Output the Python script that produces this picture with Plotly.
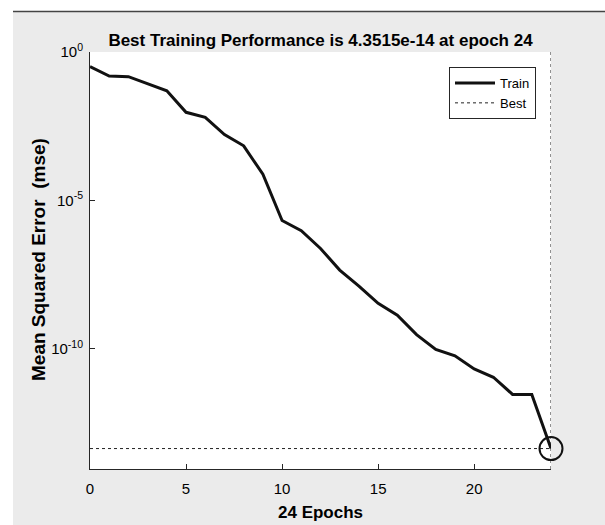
import plotly.graph_objects as go

# ---- data ----
epochs = list(range(25))
train_mse = [0.32, 0.155, 0.148, 0.087, 0.049, 0.0093, 0.0063, 0.00166, 0.00069, 7.6e-5,
             2.1e-6, 9.5e-7, 2.4e-7, 4.5e-8, 1.3e-8, 3.4e-9, 1.35e-9, 3.0e-10, 9.5e-11,
             5.8e-11, 2.1e-11, 1.1e-11, 2.9e-12, 2.9e-12, 4.3515e-14]
best_epoch = 24
best_value = 4.3515e-14
x_ticks = [0, 5, 10, 15, 20]
y_ticks = [1, 1e-5, 1e-10]
y_tick_text = ["10<sup>0</sup>", "10<sup>-5</sup>", "10<sup>-10</sup>"]
y_log_range = [-14.05, 0]
x_range = [0, 24]

# ---- layout geometry (pixels) ----
W, H = 605, 525
L, R, T, B = 90, 54, 52, 56
pw, ph = W - L - R, H - T - B

def px_x(p):
    return (p - L) / pw

def px_y(p):
    return (H - B - p) / ph

FONT = "Liberation Sans, Arial, Helvetica, sans-serif"
AX = "#262626"

fig = go.Figure()

fig.add_trace(go.Scatter(
    x=epochs, y=train_mse, mode="lines", name="Train",
    line=dict(color="#111111", width=3), cliponaxis=False))

ymin, ymax = 10 ** y_log_range[0], 10 ** y_log_range[1]
fig.add_trace(go.Scatter(
    x=[x_range[0], best_epoch, None, best_epoch, best_epoch],
    y=[best_value, best_value, None, ymin, ymax],
    mode="lines", name="Best",
    line=dict(color="#222222", width=1, dash="dot"), cliponaxis=False))

fig.add_trace(go.Scatter(
    x=[best_epoch], y=[best_value], mode="markers", showlegend=False,
    marker=dict(symbol="circle-open", size=23, color="#111111",
                line=dict(width=2, color="#111111")),
    cliponaxis=False))

shapes = [
    dict(type="rect", xref="paper", yref="paper", x0=px_x(0), x1=px_x(13),
         y0=px_y(H), y1=px_y(0), fillcolor="white", line=dict(width=0), layer="below"),
    dict(type="rect", xref="paper", yref="paper", x0=px_x(0), x1=px_x(W),
         y0=px_y(11), y1=px_y(0), fillcolor="white", line=dict(width=0), layer="below"),
    dict(type="line", xref="paper", yref="paper", x0=px_x(13), x1=px_x(W),
         y0=px_y(11.5), y1=px_y(11.5), line=dict(color="#444444", width=1.5)),
]

annotations = [
    dict(text="<b>Mean Squared Error\u00a0\u00a0(mse)</b>", textangle=-90,
         xref="paper", yref="paper", x=px_x(38), y=px_y(260),
         xanchor="center", yanchor="middle", showarrow=False,
         font=dict(family=FONT, size=19, color="black")),
    dict(text="<b>24 Epochs</b>", xref="paper", yref="paper",
         x=0.5, y=px_y(512), xanchor="center", yanchor="middle", showarrow=False,
         font=dict(family=FONT, size=17, color="black")),
]

fig.update_layout(
    width=W, height=H,
    margin=dict(l=L, r=R, t=T, b=B, pad=0),
    paper_bgcolor="#EBEBEB", plot_bgcolor="white",
    font=dict(family=FONT, size=14, color="black"),
    title=dict(text="<b>Best Training Performance is 4.3515e-14 at epoch 24</b>",
               x=0.5, xref="paper", xanchor="center",
               y=1 - 40 / H, yref="container", yanchor="middle",
               font=dict(family=FONT, size=17, color="black")),
    showlegend=True,
    legend=dict(x=px_x(536), y=px_y(67), xanchor="right", yanchor="top",
                bgcolor="white", bordercolor=AX, borderwidth=1,
                font=dict(family=FONT, size=13, color="black"),
                tracegroupgap=0, itemwidth=40),
    shapes=shapes, annotations=annotations,
)

fig.update_xaxes(range=x_range, tickvals=x_ticks, ticks="inside", ticklen=5,
                 tickcolor=AX, showline=True, linecolor=AX, linewidth=1,
                 showgrid=False, zeroline=False, mirror=False, ticklabelstandoff=6,
                 tickfont=dict(family=FONT, size=15, color="black"))
fig.update_yaxes(type="log", range=y_log_range, tickvals=y_ticks, ticktext=y_tick_text,
                 ticks="inside", ticklen=5, tickcolor=AX, showline=True, linecolor=AX,
                 linewidth=1, showgrid=False, zeroline=False, mirror=False,
                 ticklabelstandoff=3,
                 tickfont=dict(family=FONT, size=15, color="black"))

fig.write_html("out.html", config={"displayModeBar": False},
               post_script="document.body.style.margin='0';document.body.style.overflow='hidden';")
